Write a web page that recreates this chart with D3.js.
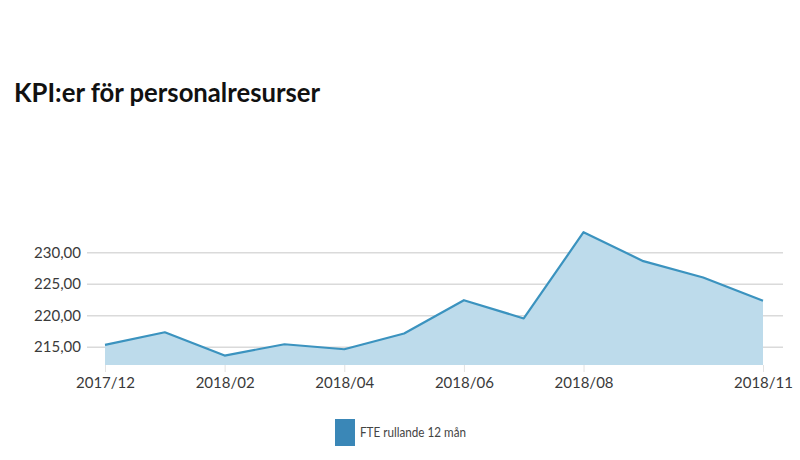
<!DOCTYPE html>
<html>
<head>
<meta charset="utf-8">
<script src="https://cdn.jsdelivr.net/npm/d3@7"></script>
<style>
  body { margin: 0; background: #fff; }
  .axis text { font-family: Lato, "Open Sans", sans-serif; font-size: 15px; fill: #3a3a3a; }
  .axis .domain { display: none; }
</style>
</head>
<body>
<svg class="chart" width="800" height="460"></svg>
<script>
// monthly FTE values
const months = ["2017/12", "2018/01", "2018/02", "2018/03", "2018/04", "2018/05",
  "2018/06", "2018/07", "2018/08", "2018/09", "2018/10", "2018/11"];
const fte = [215.3, 217.3, 213.6, 215.4, 214.6, 217.1, 222.4, 219.5, 233.2, 228.6, 226.0, 222.3];
const xTickLabels = ["2017/12", "2018/02", "2018/04", "2018/06", "2018/08", "2018/11"];
const yTickValues = [215, 220, 225, 230];
const seriesName = "FTE rullande 12 mån";

const data = months.map((m, i) => ({ month: m, value: fte[i] }));

const svg = d3.select(".chart");

// title
svg.append("text")
  .attr("x", 14)
  .attr("y", 102)
  .attr("textLength", 306)
  .attr("lengthAdjust", "spacingAndGlyphs")
  .style("font-family", "Lato, 'Open Sans', sans-serif")
  .style("font-weight", "bold")
  .style("font-size", "26px")
  .style("fill", "#111")
  .text("KPI:er för personalresurser");

const xScale = d3.scalePoint().domain(months).range([105, 763]);
const yScale = d3.scaleLinear().domain([212.1, 235]).range([365, 220.9]);

// y gridlines + labels
const yAxis = d3.axisLeft(yScale)
  .tickValues(yTickValues)
  .tickSize(-(783 - 87))
  .tickPadding(6)
  .tickFormat(d => d3.format(".2f")(d).replace(".", ","));

const gy = svg.append("g")
  .attr("class", "axis")
  .attr("transform", "translate(87,0)")
  .call(yAxis);
gy.selectAll(".tick line").attr("stroke", "#dadada").attr("stroke-width", 1.5);

// area + line
svg.append("path")
  .datum(data)
  .attr("fill", "#bddbeb")
  .attr("d", d3.area()
    .x(d => xScale(d.month))
    .y0(yScale(212.1))
    .y1(d => yScale(d.value)));

svg.append("path")
  .datum(data)
  .attr("fill", "none")
  .attr("stroke", "#3b93bf")
  .attr("stroke-width", 2.2)
  .attr("stroke-linejoin", "round")
  .attr("d", d3.line()
    .x(d => xScale(d.month))
    .y(d => yScale(d.value)));

// x axis
const xAxis = d3.axisBottom(xScale)
  .tickValues(xTickLabels)
  .tickSize(7)
  .tickPadding(5);

const gx = svg.append("g")
  .attr("class", "axis")
  .attr("transform", "translate(0,365)")
  .call(xAxis);
gx.selectAll(".tick line").attr("stroke", "#e2e2e2");

// legend
const legend = svg.append("g").attr("transform", "translate(335,419)");
legend.append("rect")
  .attr("width", 20)
  .attr("height", 27)
  .attr("fill", "#3a87b7");
legend.append("text")
  .attr("x", 25)
  .attr("y", 18)
  .attr("textLength", 106)
  .attr("lengthAdjust", "spacingAndGlyphs")
  .style("font-family", "Lato, 'Open Sans', sans-serif")
  .style("font-size", "14px")
  .style("fill", "#444")
  .text(seriesName);
</script>
</body>
</html>
